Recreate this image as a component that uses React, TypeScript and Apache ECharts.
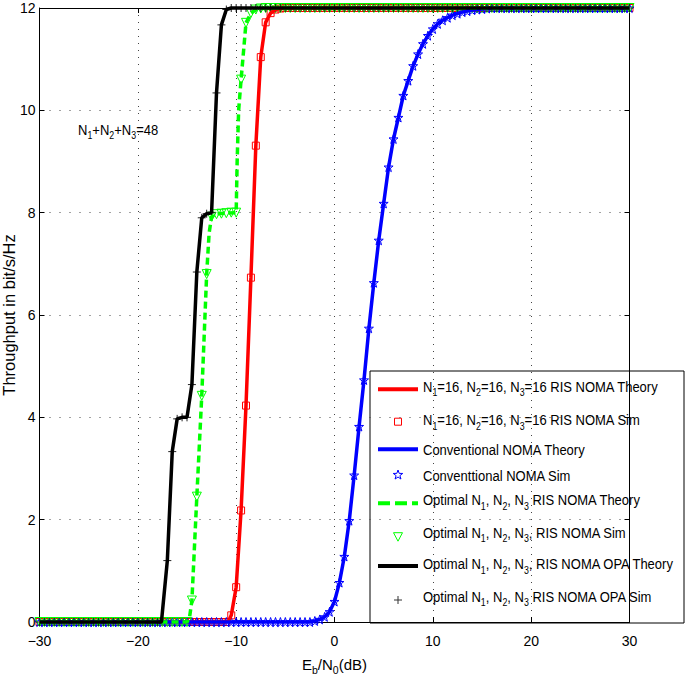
import React, { useEffect, useRef } from 'react';
import * as echarts from 'echarts';

// Eb/N0 grid of the simulated points (dB)
const ebn0 = [
  -30, -29.5, -29, -28.5, -28, -27.5, -27, -26.5, -26, -25.5,
  -25, -24.5, -24, -23.5, -23, -22.5, -22, -21.5, -21, -20.5,
  -20, -19.5, -19, -18.5, -18, -17.5, -17, -16.5, -16, -15.5,
  -15, -14.5, -14, -13.5, -13, -12.5, -12, -11.5, -11, -10.5,
  -10, -9.5, -9, -8.5, -8, -7.5, -7, -6.5, -6, -5.5,
  -5, -4.5, -4, -3.5, -3, -2.5, -2, -1.5, -1, -0.5,
  0, 0.5, 1, 1.5, 2, 2.5, 3, 3.5, 4, 4.5,
  5, 5.5, 6, 6.5, 7, 7.5, 8, 8.5, 9, 9.5,
  10, 10.5, 11, 11.5, 12, 12.5, 13, 13.5, 14, 14.5,
  15, 15.5, 16, 16.5, 17, 17.5, 18, 18.5, 19, 19.5,
  20, 20.5, 21, 21.5, 22, 22.5, 23, 23.5, 24, 24.5,
  25, 25.5, 26, 26.5, 27, 27.5, 28, 28.5, 29, 29.5,
  30,
];

const redSim = [
  0, 0, 0, 0, 0, 0, 0, 0, 0, 0,
  0, 0, 0, 0, 0, 0, 0, 0, 0, 0,
  0, 0, 0, 0, 0, 0, 0, 0, 0, 0,
  0, 0, 0, 0, 0, 0, 0, 0, 0, 0.13,
  0.68, 2.18, 4.23, 6.73, 9.31, 11.04, 11.72, 11.9, 11.97, 11.99,
  12, 12, 12, 12, 12, 12, 12, 12, 12, 12,
  12, 12, 12, 12, 12, 12, 12, 12, 12, 12,
  12, 12, 12, 12, 12, 12, 12, 12, 12, 12,
  12, 12, 12, 12, 12, 12, 12, 12, 12, 12,
  12, 12, 12, 12, 12, 12, 12, 12, 12, 12,
  12, 12, 12, 12, 12, 12, 12, 12, 12, 12,
  12, 12, 12, 12, 12, 12, 12, 12, 12, 12,
  12,
];

const blueSim = [
  0, 0, 0, 0, 0, 0, 0, 0, 0, 0,
  0, 0, 0, 0, 0, 0, 0, 0, 0, 0,
  0, 0, 0, 0, 0, 0, 0, 0, 0, 0,
  0, 0, 0, 0, 0, 0, 0, 0, 0, 0,
  0, 0, 0, 0, 0, 0, 0, 0, 0, 0,
  0, 0, 0, 0, 0, 0, 0.02, 0.05, 0.1, 0.2,
  0.4, 0.77, 1.28, 1.98, 2.87, 3.82, 4.73, 5.74, 6.63, 7.46,
  8.18, 8.89, 9.44, 9.86, 10.29, 10.58, 10.87, 11.1, 11.3, 11.46,
  11.59, 11.69, 11.76, 11.81, 11.86, 11.89, 11.92, 11.94, 11.96, 11.97,
  11.98, 11.99, 12, 12, 12, 12, 12, 12, 12, 12,
  12, 12, 12, 12, 12, 12, 12, 12, 12, 12,
  12, 12, 12, 12, 12, 12, 12, 12, 12, 12,
  12,
];

const greenSim = [
  0, 0, 0, 0, 0, 0, 0, 0, 0, 0,
  0, 0, 0, 0, 0, 0, 0, 0, 0, 0,
  0, 0, 0, 0, 0, 0, 0, 0, 0, 0,
  0, 0.42, 2.45, 4.42, 6.8, 7.92, 7.97, 7.98, 7.99, 8,
  8, 10.6, 11.71, 11.9, 11.97, 11.99, 12, 12, 12, 12,
  12, 12, 12, 12, 12, 12, 12, 12, 12, 12,
  12, 12, 12, 12, 12, 12, 12, 12, 12, 12,
  12, 12, 12, 12, 12, 12, 12, 12, 12, 12,
  12, 12, 12, 12, 12, 12, 12, 12, 12, 12,
  12, 12, 12, 12, 12, 12, 12, 12, 12, 12,
  12, 12, 12, 12, 12, 12, 12, 12, 12, 12,
  12, 12, 12, 12, 12, 12, 12, 12, 12, 12,
  12,
];

const blackSim = [
  0, 0, 0, 0, 0, 0, 0, 0, 0, 0,
  0, 0, 0, 0, 0, 0, 0, 0, 0, 0,
  0, 0, 0, 0, 0, 0.03, 1.2, 3.33, 3.97, 4.0,
  4.0, 4.64, 6.84, 7.9, 7.98, 8.0, 10.34, 11.67, 11.97, 12,
  12, 12, 12, 12, 12, 12, 12, 12, 12, 12,
  12, 12, 12, 12, 12, 12, 12, 12, 12, 12,
  12, 12, 12, 12, 12, 12, 12, 12, 12, 12,
  12, 12, 12, 12, 12, 12, 12, 12, 12, 12,
  12, 12, 12, 12, 12, 12, 12, 12, 12, 12,
  12, 12, 12, 12, 12, 12, 12, 12, 12, 12,
  12, 12, 12, 12, 12, 12, 12, 12, 12, 12,
  12, 12, 12, 12, 12, 12, 12, 12, 12, 12,
  12,
];

const redTheory = [
  [-30, 0], [-11, 0], [-10.75, 0.03], [-10.5, 0.13], [-10, 0.68], [-9.5, 2.18],
  [-9, 4.23], [-8.5, 6.73], [-8, 9.31], [-7.5, 11.04], [-7, 11.72], [-6.5, 11.9],
  [-6, 11.97], [-5.5, 11.99], [-5, 12], [30, 12],
];

const blueTheory = [
  [-30, 0], [-2.5, 0], [-2, 0.02], [-1.5, 0.05], [-1, 0.1], [-0.5, 0.2], [0, 0.4],
  [0.5, 0.77], [1, 1.28], [1.5, 1.98], [2, 2.87], [2.5, 3.82], [3, 4.73], [3.5, 5.74],
  [4, 6.63], [4.5, 7.46], [5, 8.18], [5.5, 8.89], [6, 9.44], [6.5, 9.86], [7, 10.29],
  [7.5, 10.58], [8, 10.87], [8.5, 11.1], [9, 11.3], [9.5, 11.46], [10, 11.59],
  [10.5, 11.69], [11, 11.76], [11.5, 11.81], [12, 11.86], [12.5, 11.89], [13, 11.92],
  [13.5, 11.94], [14, 11.96], [14.5, 11.97], [15, 11.98], [15.5, 11.99], [16, 12], [30, 12],
];

const greenTheory = [
  [-30, 0], [-15, 0], [-14.75, 0.08], [-14.5, 0.42], [-14, 2.45], [-13.5, 4.42],
  [-13, 6.8], [-12.75, 7.6], [-12.5, 7.92], [-12, 7.98], [-10, 8.0], [-9.9, 9.0],
  [-9.75, 10.0], [-9.5, 10.6], [-9, 11.71], [-8.5, 11.9], [-8, 11.97], [-7, 12], [30, 12],
];

const blackTheory = [
  [-30, 0], [-17.6, 0], [-17, 1.2], [-16.5, 3.33], [-16, 3.97], [-15.5, 4.0],
  [-15, 4.0], [-14.5, 4.64], [-14, 6.84], [-13.5, 7.9], [-13, 7.98], [-12.5, 8.0],
  [-12, 10.34], [-11.5, 11.67], [-11, 11.97], [-10.5, 12], [30, 12],
];

const xAxisRange = { min: -30, max: 30, interval: 10 };
const yAxisRange = { min: 0, max: 12, interval: 2 };

const seriesNames = [
  'N1=16, N2=16, N3=16 RIS NOMA Theory',
  'N1=16, N2=16, N3=16 RIS NOMA Sim',
  'Conventional NOMA Theory',
  'Conventtional NOMA Sim',
  'Optimal N1, N2, N3 RIS NOMA Theory',
  'Optimal N1, N2, N3, RIS NOMA Sim',
  'Optimal N1, N2, N3, RIS NOMA OPA Theory',
  'Optimal N1, N2, N3 RIS NOMA OPA Sim',
];

const legendRich = [
  '{n|N}{s|1}{n|=16, N}{s|2}{n|=16, N}{s|3}{n|=16 RIS NOMA Theory}',
  '{n|N}{s|1}{n|=16, N}{s|2}{n|=16, N}{s|3}{n|=16 RIS NOMA Sim}',
  '{n|Conventional NOMA Theory}',
  '{n|Conventtional NOMA Sim}',
  '{n|Optimal N}{s|1}{n|, N}{s|2}{n|, N}{s|3}{n| RIS NOMA Theory}',
  '{n|Optimal N}{s|1}{n|, N}{s|2}{n|, N}{s|3}{n|, RIS NOMA Sim}',
  '{n|Optimal N}{s|1}{n|, N}{s|2}{n|, N}{s|3}{n|, RIS NOMA OPA Theory}',
  '{n|Optimal N}{s|1}{n|, N}{s|2}{n|, N}{s|3}{n| RIS NOMA OPA Sim}',
];

const annotationText = '{n|N}{s|1}{n|+N}{s|2}{n|+N}{s|3}{n|=48}';
const xAxisName = '{n|E}{s|b}{n|/N}{s|0}{n|(dB)}';
const yAxisName = 'Throughput in bit/s/Hz';

const FONT = '"Liberation Sans", Arial, Helvetica, sans-serif';
const TEXT_SQUEEZE = 0.84;
const RED = '#ff0000';
const BLUE = '#0000ff';
const GREEN = '#00ff00';
const BLACK = '#000000';

const STAR = 'path://M0,-5L1.18,-1.62L4.76,-1.55L1.9,0.62L2.94,4.05L0,2L-2.94,4.05L-1.9,0.62L-4.76,-1.55L-1.18,-1.62Z';
const PLUS = 'path://M5,0L5,10M0,5L10,5';

const ecRich = {
  n: { fontSize: 15, fontFamily: FONT, color: '#000', lineHeight: 17 },
  s: { fontSize: 10.5, fontFamily: FONT, color: '#000', lineHeight: 12, padding: [12, 0, 0, 0] },
};
const zrRich = {
  n: { fontSize: 15.5, fontFamily: FONT, fill: '#000', lineHeight: 18 },
  s: { fontSize: 10.5, fontFamily: FONT, fill: '#000', lineHeight: 12, padding: [12, 0, 0, 0] },
};

function theory(name: string, data: number[][], color: string, dashed = false) {
  return {
    type: 'line',
    name,
    data,
    symbol: 'none',
    clip: false,
    lineStyle: { color, width: 3.5, type: dashed ? [7, 4] : 'solid' },
    itemStyle: { color },
  };
}

function sim(name: string, ys: number[], color: string, symbol: string, size: number, rotate = 0) {
  return {
    type: 'scatter',
    name,
    data: ebn0.map((x, i) => [x, ys[i]]),
    symbol,
    symbolSize: size,
    symbolRotate: rotate,
    clip: false,
    itemStyle: { color: 'rgba(0,0,0,0)', borderColor: color, borderWidth: 1, opacity: 1 },
  };
}

function squeezedText(text: string, x: number, y: number, z = 0) {
  return {
    type: 'text',
    x,
    y,
    z,
    scaleX: TEXT_SQUEEZE,
    scaleY: 1,
    style: { text, rich: zrRich, verticalAlign: 'middle', align: 'left', fill: '#000' },
  };
}

function legendGraphic() {
  const L = 370;
  const T = 371;
  const W = 314;
  const H = 252;
  const iconY = [18.3, 50.7, 78.3, 104, 132.3, 165.7, 195, 229];
  const textY = [15.7, 49, 79, 105, 129, 161.7, 193, 225.7];
  const cx = 28;
  const children: any[] = [
    { type: 'rect', shape: { x: 0, y: 0, width: W, height: H }, style: { fill: '#fff', stroke: '#000', lineWidth: 1 } },
    { type: 'line', shape: { x1: 8, y1: iconY[0], x2: 48, y2: iconY[0] }, style: { stroke: RED, lineWidth: 4 } },
    { type: 'rect', shape: { x: cx - 3.5, y: iconY[1] - 3.5, width: 7, height: 7 }, style: { fill: 'none', stroke: RED, lineWidth: 1 } },
    { type: 'line', shape: { x1: 8, y1: iconY[2], x2: 48, y2: iconY[2] }, style: { stroke: BLUE, lineWidth: 4 } },
    {
      type: 'polygon',
      shape: {
        points: [
          [0, -5], [1.18, -1.62], [4.76, -1.55], [1.9, 0.62], [2.94, 4.05], [0, 2],
          [-2.94, 4.05], [-1.9, 0.62], [-4.76, -1.55], [-1.18, -1.62],
        ].map((p) => [p[0] + cx, p[1] + iconY[3]]),
      },
      style: { fill: 'none', stroke: BLUE, lineWidth: 1 },
    },
    { type: 'line', shape: { x1: 8, y1: iconY[4], x2: 48, y2: iconY[4] }, style: { stroke: GREEN, lineWidth: 4, lineDash: [12, 5] } },
    {
      type: 'polygon',
      shape: { points: [[cx - 4.5, iconY[5] - 4], [cx + 4.5, iconY[5] - 4], [cx, iconY[5] + 4.5]] },
      style: { fill: 'none', stroke: GREEN, lineWidth: 1 },
    },
    { type: 'line', shape: { x1: 8, y1: iconY[6], x2: 48, y2: iconY[6] }, style: { stroke: BLACK, lineWidth: 4 } },
    { type: 'line', shape: { x1: cx - 4, y1: iconY[7], x2: cx + 4, y2: iconY[7] }, style: { stroke: '#333', lineWidth: 1 } },
    { type: 'line', shape: { x1: cx, y1: iconY[7] - 4, x2: cx, y2: iconY[7] + 4 }, style: { stroke: '#333', lineWidth: 1 } },
  ];
  legendRich.forEach((t, i) => {
    children.push(squeezedText(t, 53, textY[i]));
  });
  return { type: 'group', x: L, y: T, z: 100, children };
}

const minusFmt = (v: number) => String(v).replace('-', '\u2212');

const option: any = {
  animation: false,
  backgroundColor: '#fff',
  grid: { left: 39.5, right: 55.5, top: 8, bottom: 57, containLabel: false, outerBoundsMode: 'none' },
  xAxis: [
    {
      type: 'value',
      ...xAxisRange,
      position: 'bottom',
      name: xAxisName,
      nameLocation: 'middle',
      nameGap: 24,
      nameTextStyle: { rich: ecRich },
      axisLine: { show: true, onZero: false, lineStyle: { color: '#000', width: 1 } },
      axisTick: { show: true, inside: true, length: 5, lineStyle: { color: '#000' } },
      axisLabel: { color: '#000', fontSize: 14, fontFamily: FONT, margin: 12, formatter: minusFmt },
      splitLine: { show: true, lineStyle: { color: '#444', width: 1, type: [1, 6] } },
    },
    {
      type: 'value',
      ...xAxisRange,
      position: 'top',
      axisLine: { show: true, onZero: false, lineStyle: { color: '#000', width: 1 } },
      axisTick: { show: true, inside: true, length: 5, lineStyle: { color: '#000' } },
      axisLabel: { show: false },
      splitLine: { show: false },
    },
  ],
  yAxis: [
    {
      type: 'value',
      ...yAxisRange,
      position: 'left',
      name: yAxisName,
      nameLocation: 'middle',
      nameGap: 22,
      nameMoveOverlap: false,
      nameTextStyle: { color: '#000', fontSize: 16.5, fontFamily: FONT },
      axisLine: { show: true, onZero: false, lineStyle: { color: '#000', width: 1 } },
      axisTick: { show: true, inside: true, length: 5, lineStyle: { color: '#000' } },
      axisLabel: { color: '#000', fontSize: 14, fontFamily: FONT, margin: 4 },
      splitLine: { show: true, lineStyle: { color: '#444', width: 1, type: [1, 9] } },
    },
    {
      type: 'value',
      ...yAxisRange,
      position: 'right',
      axisLine: { show: true, onZero: false, lineStyle: { color: '#000', width: 1 } },
      axisTick: { show: true, inside: true, length: 5, lineStyle: { color: '#000' } },
      axisLabel: { show: false },
      splitLine: { show: false },
    },
  ],
  series: [
    theory(seriesNames[0], redTheory, RED),
    sim(seriesNames[1], redSim, RED, 'rect', 7),
    theory(seriesNames[2], blueTheory, BLUE),
    sim(seriesNames[3], blueSim, BLUE, STAR, 9),
    theory(seriesNames[4], greenTheory, GREEN, true),
    sim(seriesNames[5], greenSim, GREEN, 'triangle', 9, 180),
    theory(seriesNames[6], blackTheory, BLACK),
    sim(seriesNames[7], blackSim, '#222', PLUS, 8),
  ],
  graphic: [
    squeezedText(annotationText, 78, 129.5, 100),
    legendGraphic(),
  ],
};

export default function App() {
  const ref = useRef<HTMLDivElement>(null);
  useEffect(() => {
    if (!ref.current) return;
    const chart = echarts.init(ref.current, null, { renderer: 'svg' });
    chart.setOption(option);
    return () => chart.dispose();
  }, []);
  return (
    <div
      ref={ref}
      style={{ position: 'absolute', left: 0, top: 0, width: 685, height: 679, background: '#fff' }}
    />
  );
}
